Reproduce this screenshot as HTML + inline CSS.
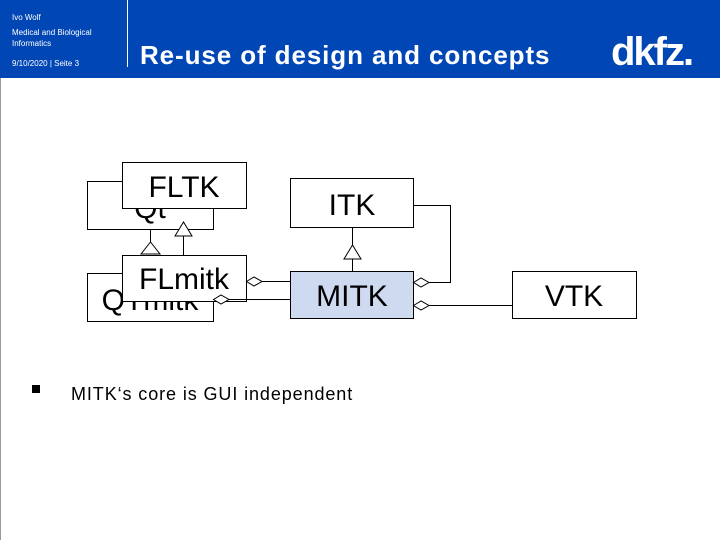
<!DOCTYPE html>
<html><head><style>
body{margin:0;width:720px;height:540px;overflow:hidden;background:#fff;font-family:"Liberation Sans",sans-serif;position:relative}
.hd{position:absolute;left:0;top:0;width:720px;height:78px;background:#0046b4}
.s{position:absolute;color:#fff;font-size:8px}
</style></head><body>
<div class="hd"></div>
<div class="s" style="left:12px;top:13px">Ivo Wolf</div>
<div class="s" style="left:12px;top:28px">Medical and Biological</div>
<div class="s" style="left:12px;top:39px">Informatics</div>
<div class="s" style="left:12px;top:59px">9/10/2020 | Seite 3</div>
<div style="position:absolute;left:127px;top:0;width:1px;height:67px;background:#fff"></div>
<div style="position:absolute;left:140px;top:40px;color:#fff;font-size:26px;font-weight:bold;letter-spacing:0.9px">Re-use of design and concepts</div>
<div style="position:absolute;left:611px;top:30px;color:#fff;font-size:40px;font-weight:bold;letter-spacing:-2px">dkfz.</div>
<div style="position:absolute;left:0;top:78px;width:1px;height:462px;background:#999"></div>
<svg width="720" height="540" style="position:absolute;left:0;top:0" font-family="Liberation Sans, sans-serif" font-size="30">
<g stroke="#000" stroke-width="1" fill="#fff">
<rect x="87.5" y="181.5" width="126" height="48"/>
<text x="150" y="218" text-anchor="middle" stroke="none" fill="#000">Qt</text>
<rect x="122.5" y="162.5" width="124" height="46"/>
<text x="184" y="197" text-anchor="middle" stroke="none" fill="#000">FLTK</text>
<rect x="290.5" y="178.5" width="123" height="49"/>
<text x="352" y="215" text-anchor="middle" stroke="none" fill="#000">ITK</text>
<rect x="87.5" y="273.5" width="126" height="48"/>
<text x="150" y="310" text-anchor="middle" stroke="none" fill="#000">QTmitk</text>
<rect x="122.5" y="255.5" width="124" height="46"/>
<text x="184" y="289" text-anchor="middle" stroke="none" fill="#000">FLmitk</text>
<rect x="290.5" y="271.5" width="123" height="47" fill="#cddaef"/>
<text x="352" y="306" text-anchor="middle" stroke="none" fill="#000">MITK</text>
<rect x="512.5" y="271.5" width="124" height="47"/>
<text x="574" y="306" text-anchor="middle" stroke="none" fill="#000">VTK</text>
<path d="M150.5 229.5V242 M183.5 236V255.5 M352.5 227.5V245 M352.5 259V271.5" fill="none"/>
<path d="M150.5 242L141 254H160Z"/>
<path d="M183.5 222L175 236H192Z"/>
<path d="M352.5 245L344 259H361Z"/>
<path d="M262 281.5H290.5 M229 299.5H290.5 M413.5 205.5H450.5V282.5H429 M429 305.5H512.5" fill="none"/>
<path d="M246.5 281.5L254 277L262 281.5L254 286Z"/>
<path d="M213.5 299.5L221 295L229 299.5L221 304Z"/>
<path d="M413.5 282.5L421 278L429 282.5L421 287Z"/>
<path d="M413.5 305.5L421 301L429 305.5L421 310Z"/>
</g>
</svg>
<div style="position:absolute;left:32px;top:385px;width:8px;height:8px;background:#000"></div>
<div style="position:absolute;left:71px;top:384px;font-size:18px;letter-spacing:0.9px">MITK‘s core is GUI independent</div>
</body></html>
